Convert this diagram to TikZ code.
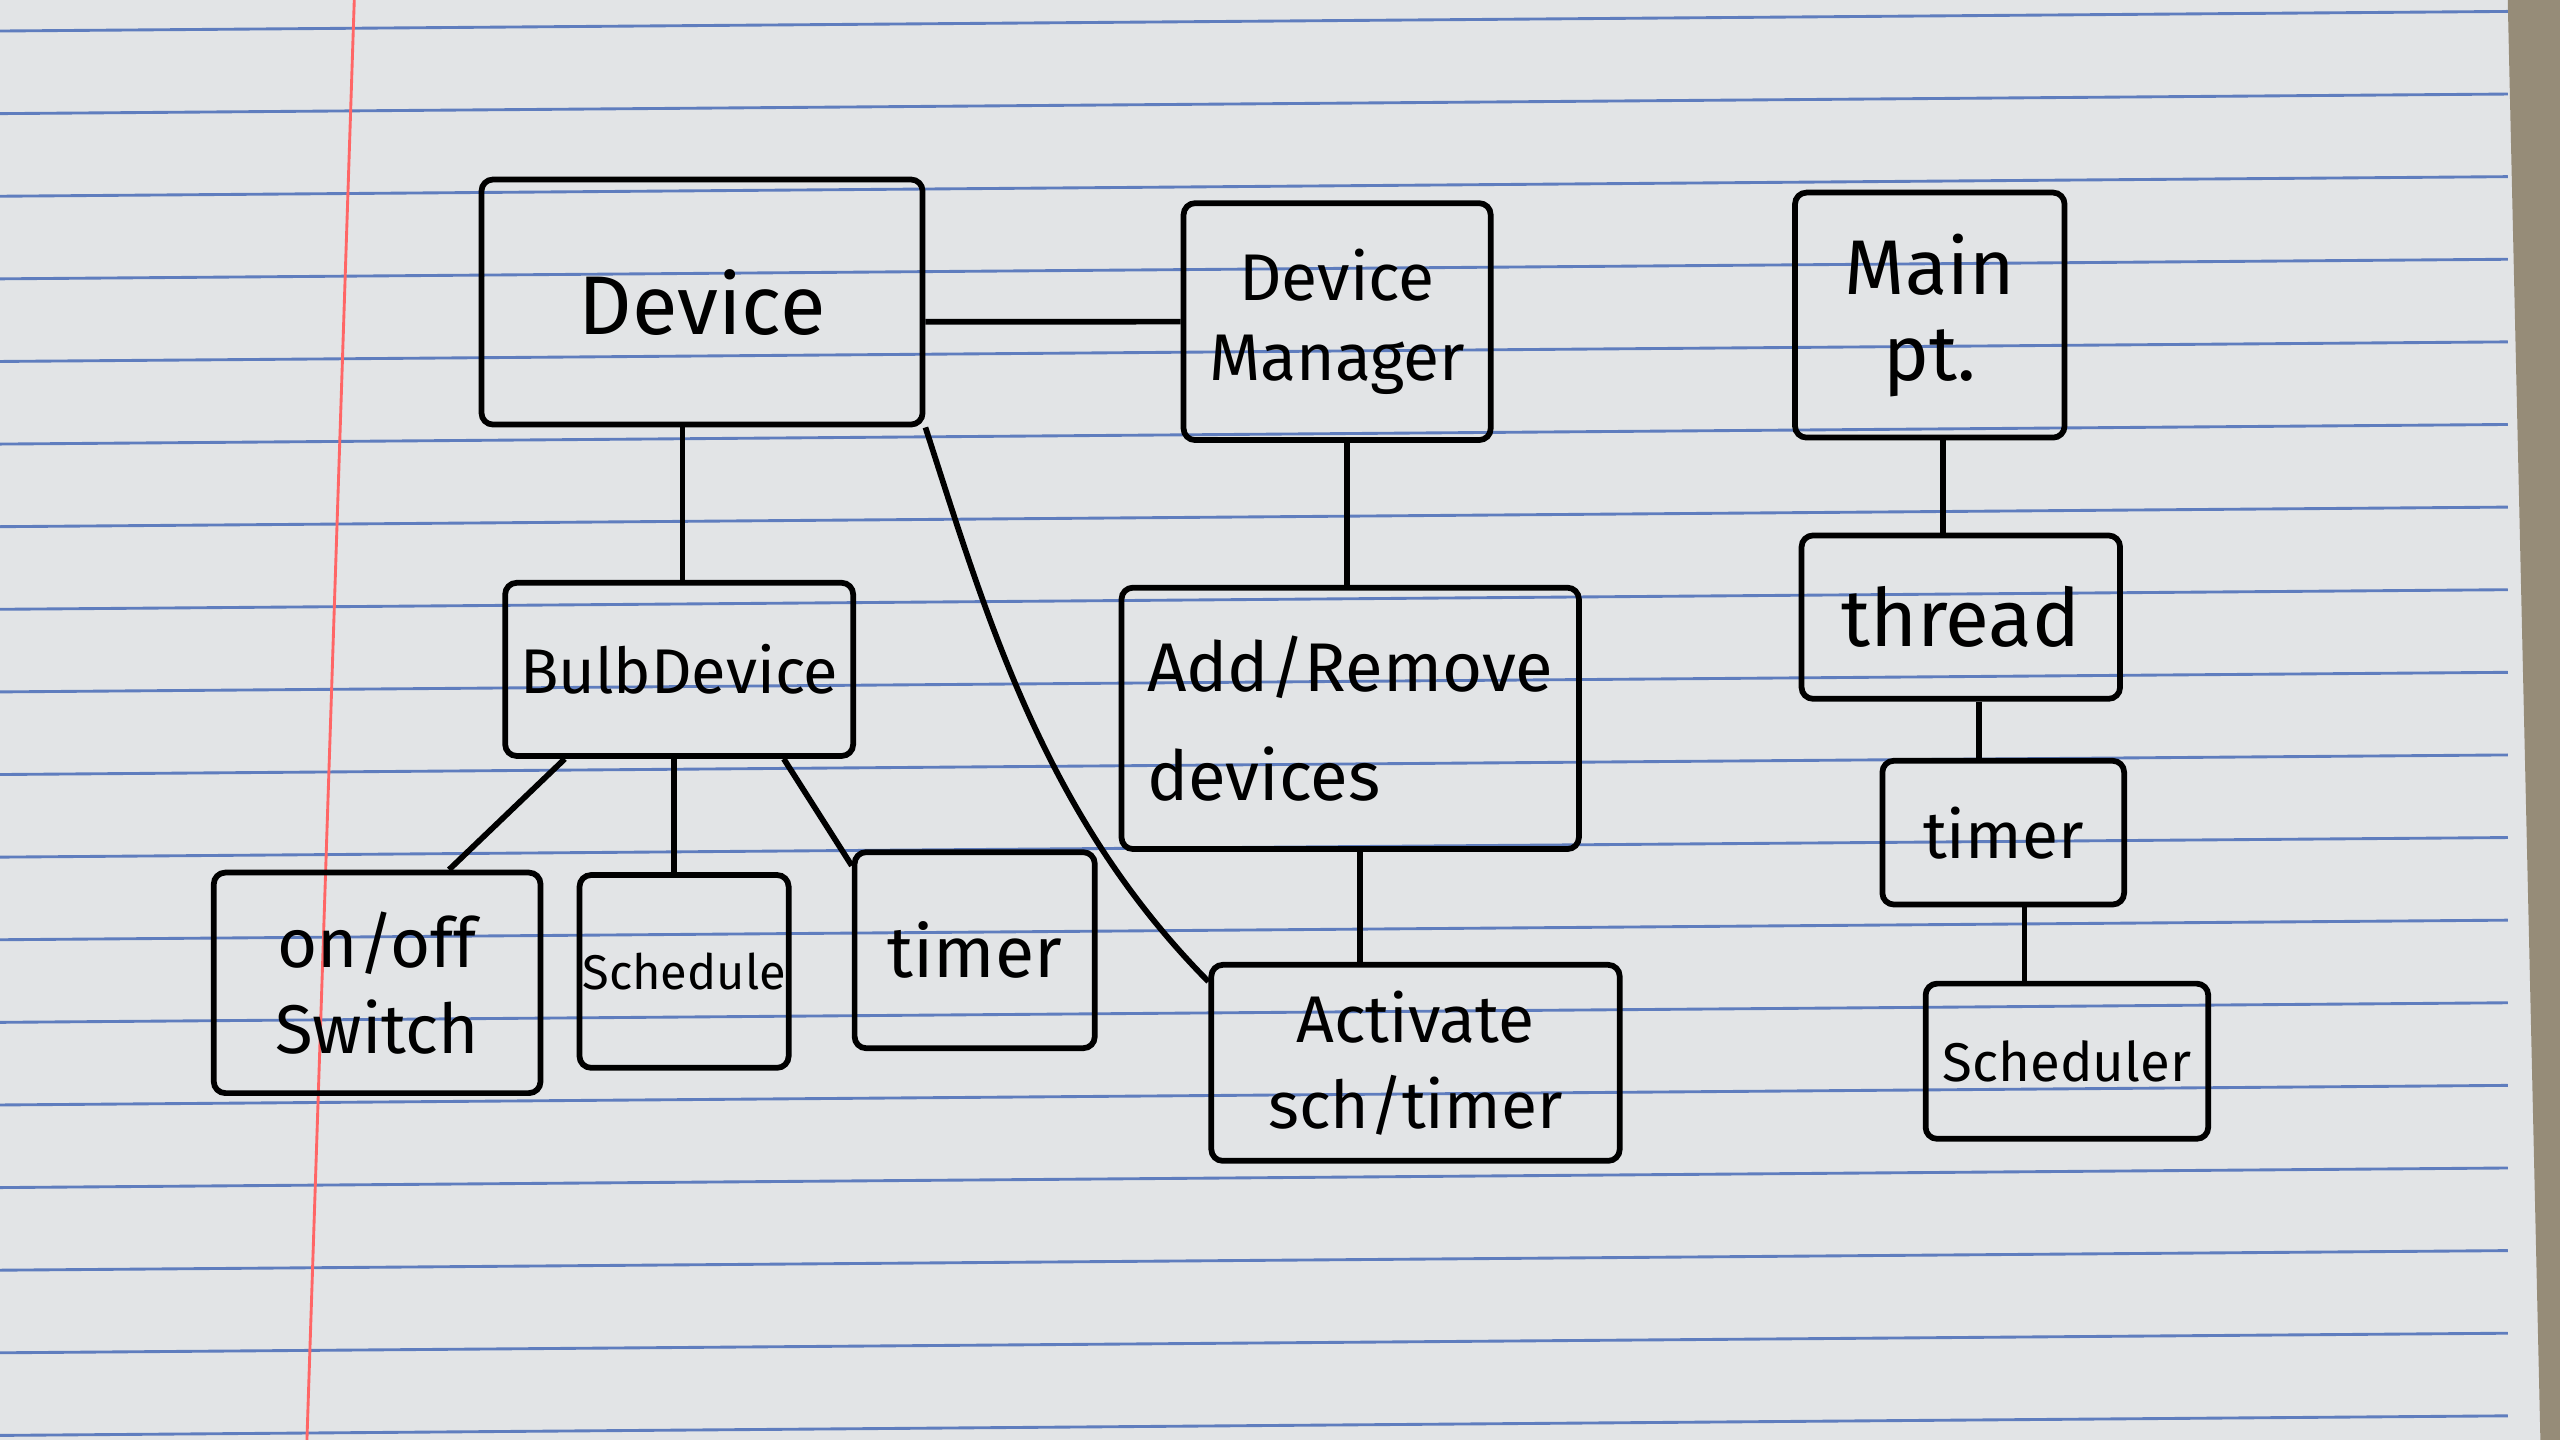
\documentclass[tikz,border=0pt]{standalone}
\usepackage{fontspec}
\setmainfont{Fira Sans}
\usepackage{tikz}

\definecolor{paper}{RGB}{226,228,230}
\definecolor{rule}{RGB}{95,125,190}
\definecolor{desk}{RGB}{150,140,120}

\begin{document}
\begin{tikzpicture}[x=0.01cm, y=-0.01cm, line width=1pt,
	box/.style={draw, rounded corners=2pt, align=center, inner sep=0pt}]
	\useasboundingbox (0,0) rectangle (1568,882);
	% paper
	\fill[paper] (0,0) rectangle (1568,882);
	\fill[desk] (1536,0) -- (1568,0) -- (1568,882) -- (1556,882) -- cycle;
	\foreach \y in {7,57.6,...,880} {\draw[rule, line width=0.5pt] (0,\y+12) -- (1536,\y);}
	\draw[red!60, line width=0.5pt] (217,0) -- (188,882);
	% boxes
	\node[box, minimum width=2.7cm, minimum height=1.5cm, font=\fontsize{14.5}{17}\selectfont] (dev) at (430,185) {Device};
	\node[box, minimum width=1.88cm, minimum height=1.45cm, font=\fontsize{11.5}{14}\selectfont] (devman) at (819,197) {Device\\Manager};
	\node[box, minimum width=1.65cm, minimum height=1.5cm, font=\fontsize{13.5}{15}\selectfont] (mainpt) at (1182,193) {Main\\pt.};
	\node[box, minimum width=2.13cm, minimum height=1.06cm, font=\fontsize{11}{13}\selectfont] (bulb) at (416,410) {BulbDevice};
	\node[box, minimum width=2.8cm, minimum height=1.6cm, align=left, font=\fontsize{12}{19}\selectfont] (addrem) at (827,440) {Add/Remove\\devices};
	\node[box, minimum width=2.0cm, minimum height=1.35cm, font=\fontsize{12}{15}\selectfont] (onoff) at (231,602) {on/off\\Switch};
	\node[box, minimum width=1.28cm, minimum height=1.18cm, font=\fontsize{8.5}{10}\selectfont] (sched) at (419,595) {Schedule};
	\node[box, minimum width=1.47cm, minimum height=1.2cm, font=\fontsize{12.5}{15}\selectfont] (timerA) at (597,582) {timer};
	\node[box, minimum width=2.5cm, minimum height=1.2cm, font=\fontsize{11.5}{15}\selectfont] (activate) at (867,651) {Activate\\sch/timer};
	\node[box, minimum width=1.95cm, minimum height=1.0cm, font=\fontsize{14}{16}\selectfont] (thread) at (1201,378) {thread};
	\node[box, minimum width=1.48cm, minimum height=0.88cm, font=\fontsize{11.5}{13}\selectfont] (timerB) at (1227,510) {timer};
	\node[box, minimum width=1.73cm, minimum height=0.95cm, font=\fontsize{9.5}{11}\selectfont] (scheduler) at (1266,650) {Scheduler};
	% links
	\draw ([yshift=-0.12cm]dev.east) -- (devman.west);
	\draw ([xshift=-0.12cm]dev.south) -- ([xshift=-0.12cm]dev.south |- bulb.north);
	\draw (dev.south east) .. controls (605,380) and (640,500) .. ([yshift=-0.12cm]activate.north west);
	\draw ([xshift=0.06cm]devman.south) -- ([xshift=0.06cm]devman.south |- addrem.north);
	\draw ([xshift=0.06cm]addrem.south) -- ([xshift=0.06cm]addrem.south |- activate.north);
	\draw ([xshift=-0.7cm]bulb.south) -- ([xshift=0.44cm]onoff.north);
	\draw ([xshift=-0.03cm]bulb.south) -- ([xshift=-0.03cm]bulb.south |- sched.north);
	\draw ([xshift=0.64cm]bulb.south) -- ([yshift=-0.1cm]timerA.north west);
	\draw ([xshift=0.08cm]mainpt.south) -- ([xshift=0.08cm]mainpt.south |- thread.north);
	\draw ([xshift=0.11cm]thread.south) -- ([xshift=0.11cm]thread.south |- timerB.north);
	\draw ([xshift=0.13cm]timerB.south) -- ([xshift=0.13cm]timerB.south |- scheduler.north);
\end{tikzpicture}
\end{document}
